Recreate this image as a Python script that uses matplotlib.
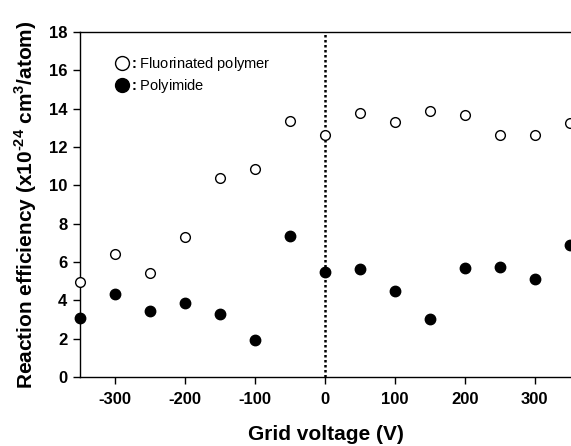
import matplotlib
matplotlib.use("Agg")
import matplotlib.pyplot as plt
from matplotlib.lines import Line2D

plt.rcParams['font.family'] = ['Liberation Sans', 'DejaVu Sans']
plt.rcParams['mathtext.fontset'] = 'custom'
plt.rcParams['mathtext.rm'] = 'Liberation Sans:bold'
plt.rcParams['mathtext.bf'] = 'Liberation Sans:bold'
plt.rcParams['axes.unicode_minus'] = False

voltage = [-350, -300, -250, -200, -150, -100, -50, 0, 50, 100, 150, 200, 250, 300, 350]
fluorinated = [4.97, 6.40, 5.44, 7.30, 10.37, 10.85, 13.34, 12.62, 13.76, 13.29, 13.89, 13.65, 12.62, 12.62, 13.23]
polyimide = [3.06, 4.33, 3.43, 3.84, 3.27, 1.91, 7.37, 5.48, 5.63, 4.49, 3.03, 5.70, 5.75, 5.10, 6.89]
xticks = [-300, -200, -100, 0, 100, 200, 300]
yticks = [0, 2, 4, 6, 8, 10, 12, 14, 16, 18]

fig = plt.figure(figsize=(5.71, 4.46), dpi=100)
ax = fig.add_axes([80/571, 1-377/446, 491/571, 345/446])

ax.axvline(0, color='black', linestyle=(0, (1, 1)), linewidth=1.8, zorder=1)
ax.plot(voltage, fluorinated, linestyle='none', marker='o', markersize=7,
        markerfacecolor='white', markeredgecolor='black', markeredgewidth=1.0, zorder=3, clip_on=False)
ax.plot(voltage, polyimide, linestyle='none', marker='o', markersize=7.5,
        markerfacecolor='black', markeredgecolor='black', zorder=3, clip_on=False)

ax.set_xlim(-350, 352)
ax.set_ylim(0, 18)
ax.set_xticks(xticks)
ax.set_yticks(yticks)
ax.spines['right'].set_visible(False)
for s in ['left', 'bottom', 'top']:
    ax.spines[s].set_linewidth(1.0)
ax.tick_params(direction='out', length=5, width=1.0, labelsize=12, pad=4)
for lab in ax.get_xticklabels() + ax.get_yticklabels():
    lab.set_fontweight('bold')
ax.tick_params(axis='x', pad=6)

ax.set_xlabel('Grid voltage (V)', fontsize=15, fontweight='bold', labelpad=13)
ax.set_ylabel(r'Reaction efficiency (x10$^{\text{-24}}$ cm$^{\text{3}}$/atom)',
              fontsize=15, fontweight='bold', labelpad=7)

handles = [Line2D([], [], linestyle='none', marker='o', markersize=10, markerfacecolor='white',
                  markeredgecolor='black', markeredgewidth=1.0),
           Line2D([], [], linestyle='none', marker='o', markersize=10, markerfacecolor='black',
                  markeredgecolor='black')]
leg = ax.legend(handles, [r'$\mathbf{:}$Fluorinated polymer', r'$\mathbf{:}$Polyimide'], loc='upper left',
                bbox_to_anchor=(117/571, 1-55/446), bbox_transform=fig.transFigure,
                frameon=False, handlelength=0.7, handletextpad=0.1, borderpad=0,
                borderaxespad=0, labelspacing=0.25, fontsize=10.5)

fig.savefig('out.png', dpi=100)
